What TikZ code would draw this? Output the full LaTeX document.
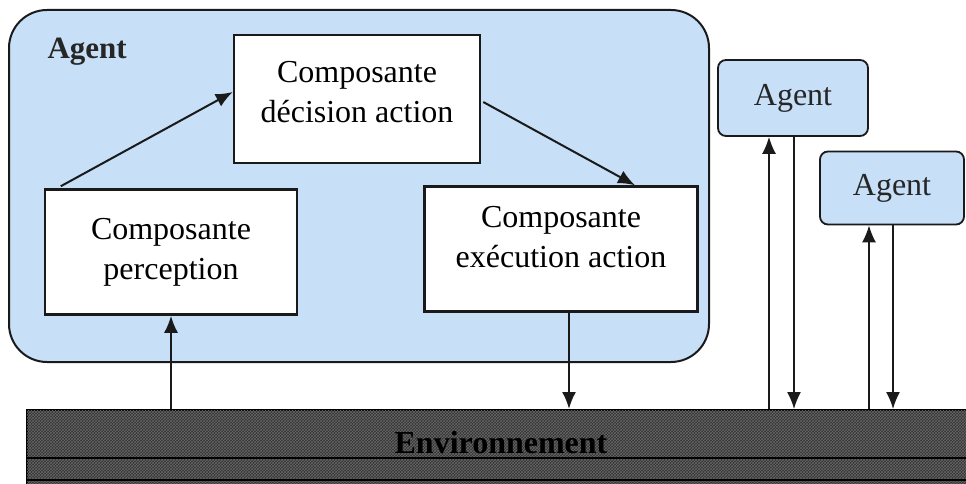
\documentclass[tikz,border=0pt]{standalone}
\usepackage{fontspec}
\setmainfont{Liberation Serif}
\usepackage{tikz}
\usetikzlibrary{arrows.meta, positioning, calc, patterns}
\definecolor{AgentBlue}{HTML}{C7DFF7}
\definecolor{EnvGray}{HTML}{333333}
\definecolor{InkBlack}{HTML}{1A1A1A}

\begin{document}
\begin{tikzpicture}[x=1pt, y=-1pt,
    compbox/.style={draw=InkBlack, line width=2.5pt, fill=white, align=center,
                    font=\fontsize{32}{40}\selectfont, inner sep=0pt},
    agentbox/.style={draw=InkBlack, line width=1.8pt, fill=AgentBlue, rounded corners=8pt,
                     font=\fontsize{32}{40}\selectfont, text=black!85, inner sep=0pt},
    flow/.style={draw=InkBlack, line width=2pt, -{Latex[length=17pt, width=14pt]}},
    thinflow/.style={draw=InkBlack, line width=1.6pt, -{Latex[length=17pt, width=14pt]}}]
    \useasboundingbox (0,0) rectangle (966,484);

    % Agent principal
    \node[draw=InkBlack, line width=2pt, fill=AgentBlue, rounded corners=38pt,
          minimum width=700pt, minimum height=352pt, inner sep=0pt] (agent) at (359,186) {};
    \node[anchor=west, font=\fontsize{31}{38}\selectfont\bfseries, text=black!85]
        (agentlabel) at (44,52) {Agent};

    % Composantes
    \node[compbox, minimum width=246pt, minimum height=128pt, text depth=14pt]
        (decision) at (357,99) {Composante\\d\'ecision action};
    \node[compbox, minimum width=252pt, minimum height=125pt]
        (perception) at (171,252) {Composante\\perception};
    \node[compbox, minimum width=273pt, minimum height=125pt, text depth=24pt]
        (execution) at (561,249) {Composante\\ex\'ecution action};

    % Autres agents
    \node[agentbox, minimum width=150pt, minimum height=76pt] (agentB) at (793,98) {Agent};
    \node[agentbox, minimum width=144pt, minimum height=73pt] (agentC) at (892,188) {Agent};

    % Environnement
    \node[draw=black, line width=2pt, fill=EnvGray,
          postaction={pattern=crosshatch, pattern color=black!60},
          minimum width=950pt, minimum height=84pt, inner sep=0pt] (env) at (502,452) {};
    \node[font=\fontsize{32}{40}\selectfont\bfseries, text=black] (envlabel) at (501,443) {Environnement};
    \draw[black, line width=1.5pt] (env.west |- 0,458) -- (env.east |- 0,458);
    \draw[black, line width=1.5pt] (env.west |- 0,480) -- (env.east |- 0,480);

    % Points d'attache
    \coordinate (percout) at ($(perception.north west)+(17,-2)$);
    \coordinate (decin) at ($(decision.west)+(0,-7)$);
    \coordinate (decout) at ($(decision.east)+(2,3)$);
    \coordinate (execin) at ($(execution.north)+(74,0)$);
    \coordinate (execout) at ($(execution.south)+(8,0)$);
    \coordinate (agentBin) at ($(agentB.south)+(-24,0)$);
    \coordinate (agentBout) at ($(agentB.south)+(1,0)$);
    \coordinate (agentCin) at ($(agentC.south)+(-23,0)$);
    \coordinate (agentCout) at ($(agentC.south)+(1,0)$);

    % Flux internes
    \draw[flow] (percout) -- (decin);
    \draw[flow] (decout) -- (execin);

    % Flux avec l'environnement
    \draw[flow] (perception.south |- env.north) -- (perception.south);
    \draw[flow] (execout) -- (execout |- env.north);
    \draw[thinflow] (agentBin |- env.north) -- (agentBin);
    \draw[thinflow] (agentBout) -- (agentBout |- env.north);
    \draw[thinflow] (agentCin |- env.north) -- (agentCin);
    \draw[thinflow] (agentCout) -- (agentCout |- env.north);
\end{tikzpicture}
\end{document}
